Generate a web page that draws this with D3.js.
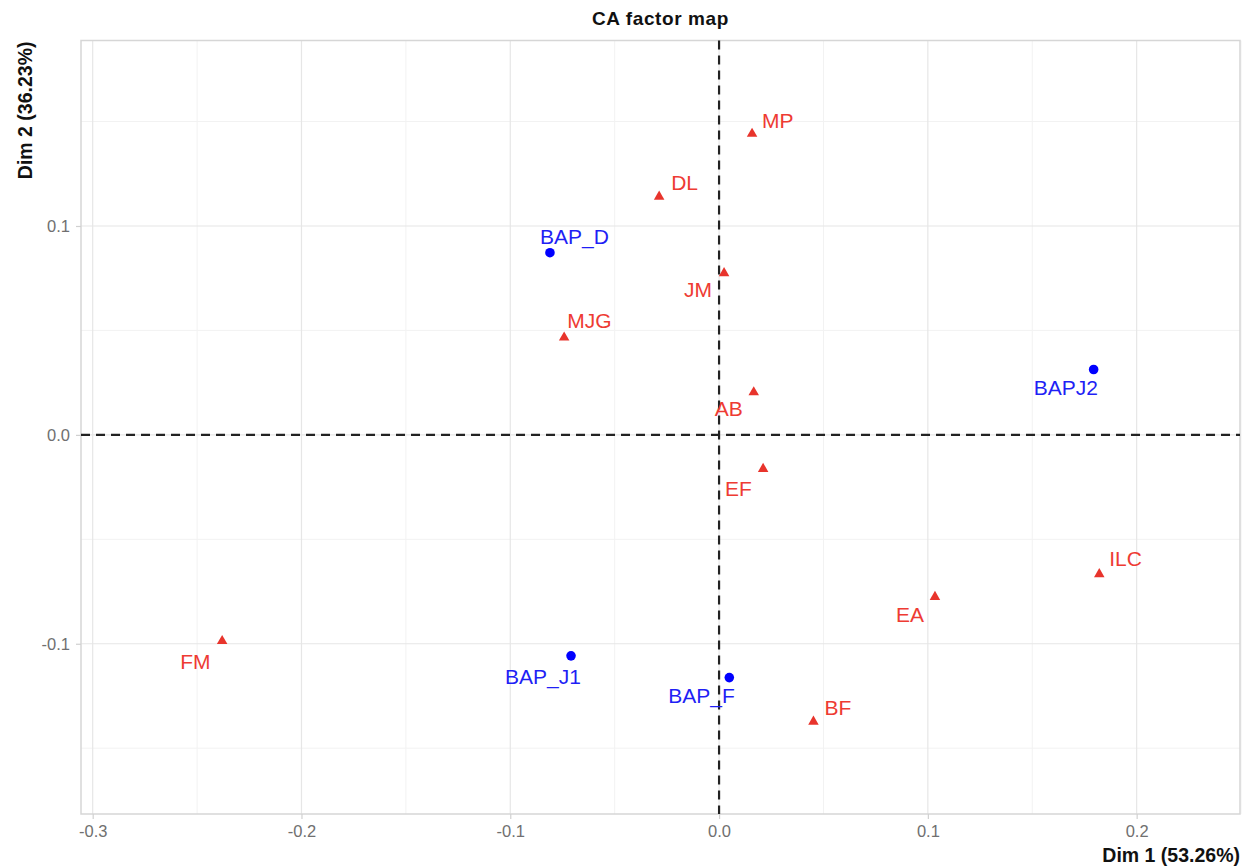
<!DOCTYPE html>
<html>
<head>
<meta charset="utf-8">
<script src="https://cdn.jsdelivr.net/npm/d3@7/dist/d3.min.js"></script>
<style>
  html, body { margin: 0; padding: 0; background: #fff; }
  svg { display: block; font-family: "Liberation Sans", Arial, Helvetica, sans-serif; }
</style>
</head>
<body>
<svg id="chart" width="1244" height="867"></svg>
<script>
// ---- Data ----
const chartTitle = "CA factor map";
const xTitle = "Dim 1 (53.26%)";
const yTitle = "Dim 2 (36.23%)";
const xTicks = [-0.3, -0.2, -0.1, 0.0, 0.1, 0.2];
const yTicks = [-0.1, 0.0, 0.1];

// column points (red triangles)
const colNames = ["MP", "DL", "JM", "MJG", "AB", "EF", "ILC", "EA", "FM", "BF"];
const colDim1 = [0.0158, -0.0287, 0.0024, -0.0742, 0.0166, 0.0211, 0.1821, 0.1034, -0.2380, 0.0452];
const colDim2 = [0.1446, 0.1145, 0.0779, 0.0471, 0.0209, -0.0158, -0.0662, -0.0771, -0.0982, -0.1368];

// row points (blue circles)
const rowNames = ["BAP_D", "BAPJ2", "BAP_J1", "BAP_F"];
const rowDim1 = [-0.0810, 0.1794, -0.0709, 0.0049];
const rowDim2 = [0.0872, 0.0313, -0.1058, -0.1162];

// ---- Label placement (styling, pixel nudges from the point: left edge / baseline) ----
const labelNudge = {
  "MP": [10, -5], "DL": [12, -6], "JM": [-40, 25], "MJG": [3, -8], "AB": [-39, 25],
  "EF": [-38, 28], "ILC": [10, -7], "EA": [-39, 26], "FM": [-42, 29], "BF": [11, -6],
  "BAP_D": [-10, -9], "BAPJ2": [-60, 26], "BAP_J1": [-66, 28], "BAP_F": [-61, 25]
};

// ---- Layout ----
const svg = d3.select("#chart");
const panel = { left: 81, right: 1240, top: 40.5, bottom: 814 };

const x = d3.scaleLinear().domain([-0.3056, 0.2495]).range([panel.left, panel.right]);
const y = d3.scaleLinear().domain([-0.1815, 0.1888]).range([panel.bottom, panel.top]);

const redCol = "#E8342C";
const redText = "#EE3B33";
const blueCol = "#0000FF";
const blueText = "#1F1FF5";

// minor grid
const xMinor = d3.range(-0.25, 0.26, 0.1);
const yMinor = [-0.15, -0.05, 0.05, 0.15];
const g = svg.append("g");
g.selectAll("line.xminor").data(xMinor).join("line")
  .attr("x1", d => x(d)).attr("x2", d => x(d))
  .attr("y1", panel.top).attr("y2", panel.bottom)
  .attr("stroke", "#f2f2f2").attr("stroke-width", 1);
g.selectAll("line.yminor").data(yMinor).join("line")
  .attr("y1", d => y(d)).attr("y2", d => y(d))
  .attr("x1", panel.left).attr("x2", panel.right)
  .attr("stroke", "#f2f2f2").attr("stroke-width", 1);
// major grid
g.selectAll("line.xmajor").data(xTicks).join("line")
  .attr("x1", d => x(d)).attr("x2", d => x(d))
  .attr("y1", panel.top).attr("y2", panel.bottom)
  .attr("stroke", "#e6e6e6").attr("stroke-width", 1.2);
g.selectAll("line.ymajor").data(yTicks).join("line")
  .attr("y1", d => y(d)).attr("y2", d => y(d))
  .attr("x1", panel.left).attr("x2", panel.right)
  .attr("stroke", "#e6e6e6").attr("stroke-width", 1.2);

// panel border
svg.append("rect")
  .attr("x", panel.left).attr("y", panel.top)
  .attr("width", panel.right - panel.left).attr("height", panel.bottom - panel.top)
  .attr("fill", "none").attr("stroke", "#d6d6d6").attr("stroke-width", 1.5);

// axes
const xAxis = svg.append("g")
  .attr("transform", `translate(0,${panel.bottom})`)
  .call(d3.axisBottom(x).tickValues(xTicks).tickFormat(d3.format(".1f")).tickSize(5).tickPadding(6));
const yAxis = svg.append("g")
  .attr("transform", `translate(${panel.left},0)`)
  .call(d3.axisLeft(y).tickValues(yTicks).tickFormat(d3.format(".1f")).tickSize(5).tickPadding(6));
[xAxis, yAxis].forEach(a => {
  a.select(".domain").remove();
  a.selectAll(".tick line").attr("stroke", "#d0d0d0").attr("stroke-width", 1.2);
  a.selectAll(".tick text").attr("fill", "#707070")
    .style("font-size", "16.5px")
    .style("font-family", "'Liberation Sans', Arial, sans-serif")
    .text(function(d) { return d3.format(".1f")(d).replace("−", "-"); });
});

// dashed zero lines
svg.append("line")
  .attr("x1", x(0)).attr("x2", x(0)).attr("y1", panel.top).attr("y2", panel.bottom)
  .attr("stroke", "#222").attr("stroke-width", 2.2).attr("stroke-dasharray", "9,6");
svg.append("line")
  .attr("y1", y(0)).attr("y2", y(0)).attr("x1", panel.left).attr("x2", panel.right)
  .attr("stroke", "#222").attr("stroke-width", 2.2).attr("stroke-dasharray", "9,6");

// build point tables from arrays
const colPts = colNames.map((n, i) => ({ name: n, d1: colDim1[i], d2: colDim2[i] }));
const rowPts = rowNames.map((n, i) => ({ name: n, d1: rowDim1[i], d2: rowDim2[i] }));

// row points: circles
svg.append("g").selectAll("path").data(rowPts).join("path")
  .attr("transform", d => `translate(${x(d.d1)},${y(d.d2)})`)
  .attr("d", d3.symbol().type(d3.symbolCircle).size(72))
  .attr("fill", blueCol);

// column points: triangles
svg.append("g").selectAll("path").data(colPts).join("path")
  .attr("transform", d => `translate(${x(d.d1)},${y(d.d2) + 1})`)
  .attr("d", d3.symbol().type(d3.symbolTriangle).size(48))
  .attr("fill", redCol);

// labels
const labelFont = "21px";
svg.append("g").selectAll("text").data(rowPts).join("text")
  .attr("x", d => x(d.d1) + labelNudge[d.name][0])
  .attr("y", d => y(d.d2) + labelNudge[d.name][1])
  .attr("fill", blueText).style("font-size", labelFont)
  .text(d => d.name);
svg.append("g").selectAll("text").data(colPts).join("text")
  .attr("x", d => x(d.d1) + labelNudge[d.name][0])
  .attr("y", d => y(d.d2) + labelNudge[d.name][1])
  .attr("fill", redText).style("font-size", labelFont)
  .text(d => d.name);

// title
svg.append("text")
  .attr("x", (panel.left + panel.right) / 2).attr("y", 25)
  .attr("text-anchor", "middle")
  .style("font-size", "19px").style("font-weight", "bold").attr("fill", "#111")
  .attr("letter-spacing", "0.6px")
  .text(chartTitle);

// axis titles
svg.append("text")
  .attr("x", panel.right).attr("y", 862)
  .attr("text-anchor", "end")
  .style("font-size", "19.5px").style("font-weight", "bold").attr("fill", "#111")
  .text(xTitle);
svg.append("text")
  .attr("transform", `translate(32,${panel.top + 1}) rotate(-90)`)
  .attr("text-anchor", "end")
  .style("font-size", "19.5px").style("font-weight", "bold").attr("fill", "#111")
  .text(yTitle);
</script>
</body>
</html>
